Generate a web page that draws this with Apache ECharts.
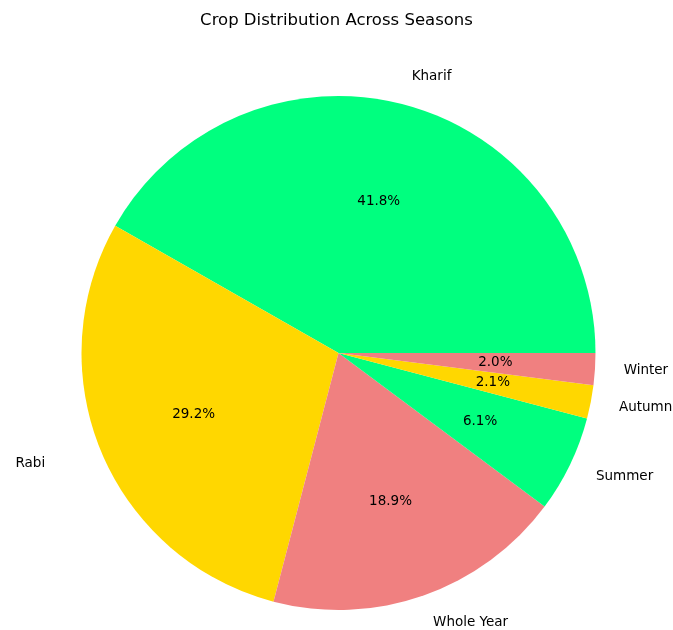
<!DOCTYPE html>
<html>
<head>
<meta charset="utf-8">
<script src="https://cdn.jsdelivr.net/npm/echarts@6/dist/echarts.min.js"></script>
<style>
  html, body { margin: 0; padding: 0; background: #fff; }
  #chart { width: 673px; height: 630px; }
</style>
</head>
<body>
<div id="chart"></div>
<script>
// Season names as they appear in the source data (with trailing padding)
const seasons = ['Kharif     ', 'Rabi       ', 'Whole Year ', 'Summer     ', 'Autumn     ', 'Winter     '];
// Share of records per season (%)
const shares = [41.8, 29.2, 18.9, 6.1, 2.1, 2.0];
const palette = ['#00FF7F', '#FFD700', '#F08080'];

const CX = 338.5, CY = 353, R = 257;
const FONT = 'DejaVu Sans';
const total = shares.reduce((a, b) => a + b, 0);

const data = seasons.map((s, i) => ({
  name: s,
  value: shares[i],
  itemStyle: { color: palette[i % palette.length] }
}));
const ghost = seasons.map((s, i) => ({ name: s, value: shares[i] }));

const chart = echarts.init(document.getElementById('chart'), null, { renderer: 'canvas' });

const common = {
  type: 'pie',
  center: [CX, CY],
  startAngle: 0,
  clockwise: false,
  avoidLabelOverlap: false,
  animation: false,
  silent: true,
  labelLine: { show: false },
  emphasis: { disabled: true }
};

chart.setOption({
  backgroundColor: '#ffffff',
  title: {
    text: 'Crop Distribution Across Seasons',
    left: 'center',
    top: 7,
    textStyle: { fontFamily: FONT, fontSize: 16.5, fontWeight: 'normal', color: '#000' }
  },
  series: [
    Object.assign({}, common, {
      radius: [0, R],
      data: data,
      label: { show: false }
    }),
    // percentage labels at 0.6 R (mid of a 1.2 R ring)
    Object.assign({}, common, {
      radius: [0, R * 1.2],
      data: ghost,
      itemStyle: { color: 'rgba(0,0,0,0)' },
      label: {
        show: true,
        position: 'inside',
        formatter: p => (p.value / total * 100).toFixed(1) + '%',
        fontFamily: FONT,
        fontSize: 13.5,
        color: '#000'
      }
    }),
    // season names at 1.1 R
    Object.assign({}, common, {
      radius: [R, R * 1.2],
      data: ghost,
      itemStyle: { color: 'rgba(0,0,0,0)' },
      label: {
        show: true,
        position: 'inside',
        formatter: '{b}',
        fontFamily: FONT,
        fontSize: 13.5,
        color: '#000'
      },
      labelLayout: function (p) {
        const mid = p.labelRect.x + p.labelRect.width / 2;
        return { align: mid >= CX ? 'left' : 'right' };
      }
    })
  ]
});
</script>
</body>
</html>
